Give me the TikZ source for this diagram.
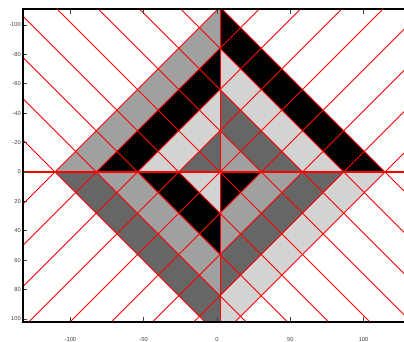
\documentclass[tikz,border=0pt]{standalone}
\usepackage{fontspec}
\setmainfont{Liberation Sans}
\definecolor{gmid}{RGB}{160,160,160}
\definecolor{glight}{RGB}{211,211,211}
\definecolor{gdark}{RGB}{102,102,102}
\definecolor{mred}{RGB}{255,0,0}
\begin{document}
\begin{tikzpicture}[x=0.75pt,y=-0.75pt,
  redline/.style={draw=mred,line width=0.6pt},
  axisline/.style={draw=black,line width=1.2pt},
  tickmark/.style={draw=black!75,line width=0.6pt},
  ticklabel/.style={font=\fontsize{4.3}{5}\selectfont,text=black!75,inner sep=0pt}]
\useasboundingbox (0,0) rectangle (404,342);
\fill[white] (0,0) rectangle (404,342);
% quadrant bands
\begin{scope}
  \clip (23,9) rectangle (220,172);
  \foreach \d/\c in {4/gmid,3/black,2/glight,1/gdark}
    \fill[\c] ({220-\d*41.25},172) -- (220,{172-\d*41.25}) -- ({220+\d*41.25},172) -- (220,{172+\d*41.25}) -- cycle;
\end{scope}
\begin{scope}
  \clip (220,9) rectangle (404,172);
  \foreach \d/\c in {4/black,3/glight,2/gdark,1/gmid}
    \fill[\c] ({220-\d*41.25},172) -- (220,{172-\d*41.25}) -- ({220+\d*41.25},172) -- (220,{172+\d*41.25}) -- cycle;
\end{scope}
\begin{scope}
  \clip (23,172) rectangle (220,322);
  \foreach \d/\c in {4/gdark,3/gmid,2/black,1/glight}
    \fill[\c] ({220-\d*41.25},172) -- (220,{172-\d*41.25}) -- ({220+\d*41.25},172) -- (220,{172+\d*41.25}) -- cycle;
\end{scope}
\begin{scope}
  \clip (220,172) rectangle (404,322);
  \foreach \d/\c in {4/glight,3/gdark,2/gmid,1/black}
    \fill[\c] ({220-\d*41.25},172) -- (220,{172-\d*41.25}) -- ({220+\d*41.25},172) -- (220,{172+\d*41.25}) -- cycle;
\end{scope}
% red diagonal grid (only the lines that cross the diamond)
\begin{scope}
  \clip (23,9) rectangle (404,322);
  \foreach \k in {-4,...,4} {
    \draw[redline] ({220+(\k+10)*41.25},{172-412.5}) -- ({220+(\k-10)*41.25},{172+412.5});
    \draw[redline] ({220+(\k-10)*41.25},{172-412.5}) -- ({220+(\k+10)*41.25},{172+412.5});
  }
  \draw[redline] (220,9) -- (220,322);
  \draw[draw=mred,line width=2.2pt] (23,172) -- (404,172);
\end{scope}
% ticks and labels
\foreach \t in {-100,-80,...,100} {
  \draw[tickmark] (23,{172+1.47*\t}) -- (27,{172+1.47*\t});
  \node[ticklabel,anchor=east] at (21,{172+1.47*\t}) {\t};
}
\foreach \j/\l in {-2/-100,-1/-50,0/0,1/50,2/100} {
  \draw[tickmark] ({217+73.3*\j},9) -- ({217+73.3*\j},14);
  \draw[tickmark] ({217+73.3*\j},322) -- ({217+73.3*\j},317);
  \node[ticklabel,anchor=south] at ({217+73.3*\j},341.5) {\l};
}
% axes
\draw[axisline] (404,9) -- (23,9) -- (23,322) -- (404,322);
\end{tikzpicture}
\end{document}
